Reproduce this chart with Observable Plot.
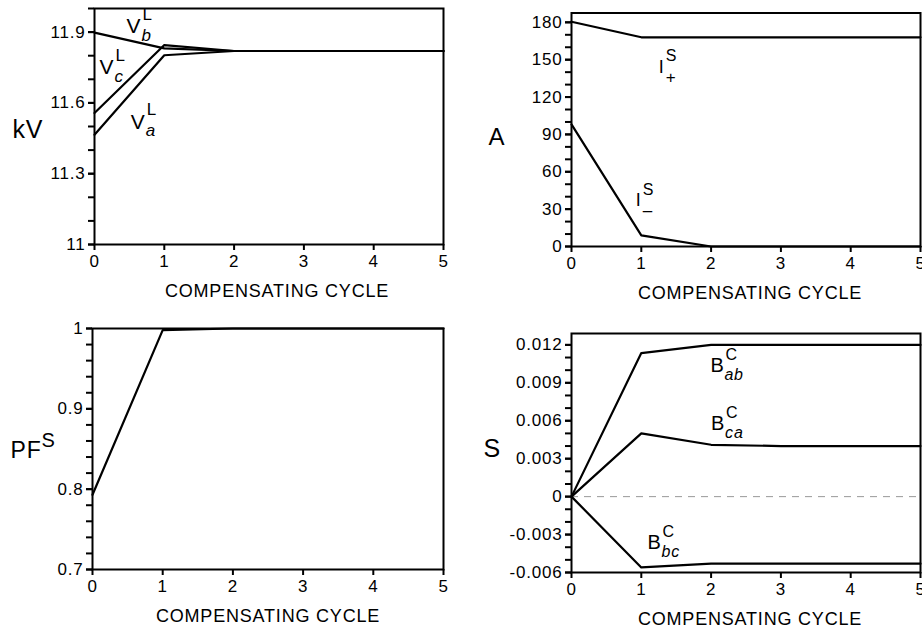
<!DOCTYPE html>
<html>
<head>
<meta charset="utf-8">
<script src="https://cdn.jsdelivr.net/npm/d3@7"></script>
<script src="https://cdn.jsdelivr.net/npm/@observablehq/plot@0.6"></script>
<style>
  html, body { margin: 0; padding: 0; background: #fff; overflow: hidden; }
  #wrap { position: relative; width: 922px; height: 629px; overflow: hidden; background: #fff; }
  .panel { position: absolute; }
</style>
</head>
<body>
<div id="wrap">
  <div class="panel" id="p1" style="left:0px;top:0px;width:461px;height:310px"></div>
  <div class="panel" id="p2" style="left:460px;top:0px;width:462px;height:310px"></div>
  <div class="panel" id="p3" style="left:0px;top:310px;width:461px;height:319px"></div>
  <div class="panel" id="p4" style="left:460px;top:310px;width:462px;height:319px"></div>
</div>
<script>
// ---------- data ----------
const cycles = [0, 1, 2, 3, 4, 5];
const xTitle = "COMPENSATING CYCLE";

// Panel 1: load voltages (kV)
const vA = [11.465, 11.802, 11.82, 11.82, 11.82, 11.82];
const vB = [11.898, 11.831, 11.82, 11.82, 11.82, 11.82];
const vC = [11.557, 11.845, 11.82, 11.82, 11.82, 11.82];
const kvTicks = [11, 11.3, 11.6, 11.9];
const kvTickLabels = ["11", "11.3", "11.6", "11.9"];

// Panel 2: source sequence currents (A)
const iPos = [180.5, 168, 168, 168, 168, 168];
const iNeg = [98, 9, 0, 0, 0, 0];
const ampTicks = [0, 30, 60, 90, 120, 150, 180];
const ampTickLabels = ["0", "30", "60", "90", "120", "150", "180"];

// Panel 3: source power factor
const pfS = [0.793, 0.998, 1, 1, 1, 1];
const pfTicks = [0.7, 0.8, 0.9, 1];
const pfTickLabels = ["0.7", "0.8", "0.9", "1"];

// Panel 4: compensator susceptances (S)
const bAB = [0, 0.01135, 0.012, 0.012, 0.012, 0.012];
const bCA = [0, 0.0050, 0.0041, 0.0040, 0.0040, 0.0040];
const bBC = [0, -0.0056, -0.0053, -0.0053, -0.0053, -0.0053];
const sTicks = [-0.006, -0.003, 0, 0.003, 0.006, 0.009, 0.012];
const sTickLabels = ["-0.006", "-0.003", "0", "0.003", "0.006", "0.009", "0.012"];

const xTicks = [0, 1, 2, 3, 4, 5];
const xTickLabels = ["0", "1", "2", "3", "4", "5"];

// curve labels (data coordinates)
const kvLabels = [
  {x: 0.46, y: 11.925, base: "V", sub: "b", sup: "L"},
  {x: 0.07, y: 11.749, base: "V", sub: "c", sup: "L"},
  {x: 0.52, y: 11.52, base: "V", sub: "a", sup: "L"}
];
const ampLabels = [
  {x: 1.25, y: 144, base: "I", sub: "+", sup: "S"},
  {x: 0.92, y: 37, base: "I", sub: "\u2013", sup: "S"}
];
const sLabels = [
  {x: 1.99, y: 0.01037, base: "B", sub: "ab", sup: "C"},
  {x: 2.0, y: 0.00578, base: "B", sub: "ca", sup: "C"},
  {x: 1.09, y: -0.00367, base: "B", sub: "bc", sup: "C"}
];

// ---------- helpers ----------
const table = (series) => series.flatMap(([name, vals]) => cycles.map((c, i) => ({cycle: c, value: vals[i], series: name})));
const fmt = (ticks, labels) => (d) => { const i = ticks.findIndex(t => Math.abs(t - d) < 1e-9); return i < 0 ? "" : labels[i]; };
const FONT = "'Liberation Sans', Arial, Helvetica, sans-serif";

function common(yTicks, yLabels, yMinor, xTitleDx) {
  return [
    Plot.axisY(yMinor, {tickSize: 6, tickFormat: () => "", strokeWidth: 2, label: null}),
    Plot.axisY(yTicks, {tickSize: 6, tickPadding: 3, tickFormat: fmt(yTicks, yLabels), fontSize: 17, strokeWidth: 2, label: null}),
    Plot.axisX(xTicks, {tickSize: 6, tickPadding: 4, tickFormat: fmt(xTicks, xTickLabels), fontSize: 17, strokeWidth: 2, label: null}),
    Plot.text([xTitle], {frameAnchor: "bottom", dy: 47, dx: xTitleDx, fontSize: 18, lineAnchor: "middle"}),
    Plot.frame({strokeWidth: 2})
  ];
}

function curveLabels(labels, o) {
  return [
    Plot.text(labels, {x: "x", y: "y", text: "base", textAnchor: "start", lineAnchor: "middle", fontSize: o.base}),
    Plot.text(labels, {x: "x", y: "y", text: "sub", textAnchor: "start", lineAnchor: "middle", fontSize: o.subSize, fontStyle: o.italic ? "italic" : "normal", dx: o.subDx, dy: o.subDy}),
    Plot.text(labels, {x: "x", y: "y", text: "sup", textAnchor: "start", lineAnchor: "middle", fontSize: o.supSize, dx: o.supDx, dy: o.supDy})
  ];
}

function render(id, opts) {
  const chart = Plot.plot({
    width: opts.width, height: opts.height,
    marginLeft: opts.mL, marginRight: opts.mR, marginTop: opts.mT, marginBottom: opts.mB,
    style: {fontFamily: FONT, fontSize: "16px", letterSpacing: "0.8px", color: "#000", background: "#fff", overflow: "visible"},
    x: {domain: [0, 5], label: null},
    y: {domain: opts.yDomain, label: null},
    marks: opts.marks
  });
  document.getElementById(id).appendChild(chart);
}

// ---------- panel 1 ----------
render("p1", {
  width: 461, height: 310, mL: 94, mR: 18, mT: 8, mB: 66, yDomain: [11, 12],
  marks: [
    ...common(kvTicks, kvTickLabels, d3.range(11, 12.0001, 0.1), 8),
    Plot.line(table([["Va", vA], ["Vb", vB], ["Vc", vC]]), {x: "cycle", y: "value", z: "series", stroke: "#000", strokeWidth: 2.2}),
    ...curveLabels(kvLabels, {base: 21, subSize: 17, italic: true, subDx: 15, subDy: 9, supSize: 17, supDx: 16, supDy: -12}),
    Plot.text(["kV"], {frameAnchor: "left", textAnchor: "start", dx: -82, dy: 3, fontSize: 25})
  ]
});

// ---------- panel 2 ----------
render("p2", {
  width: 462, height: 310, mL: 111, mR: 2, mT: 12.5, mB: 64, yDomain: [0, 187.5],
  marks: [
    ...common(ampTicks, ampTickLabels, d3.range(0, 181, 10), 4),
    Plot.line(table([["Ipos", iPos], ["Ineg", iNeg]]), {x: "cycle", y: "value", z: "series", stroke: "#000", strokeWidth: 2.2}),
    ...curveLabels(ampLabels, {base: 18, subSize: 17, italic: false, subDx: 7, subDy: 10, supSize: 16, supDx: 7, supDy: -11}),
    Plot.text(["A"], {frameAnchor: "left", textAnchor: "start", dx: -83, dy: 8, fontSize: 24})
  ]
});

// ---------- panel 3 ----------
render("p3", {
  width: 461, height: 319, mL: 92, mR: 18, mT: 18, mB: 60, yDomain: [0.7, 1],
  marks: [
    ...common(pfTicks, pfTickLabels, d3.range(0.7, 1.0001, 0.02), 0),
    Plot.line(table([["PF", pfS]]), {x: "cycle", y: "value", z: "series", stroke: "#000", strokeWidth: 2.2}),
    Plot.text(["PF"], {frameAnchor: "left", textAnchor: "start", dx: -82, dy: 2, fontSize: 23}),
    Plot.text(["S"], {frameAnchor: "left", textAnchor: "start", dx: -51, dy: -8, fontSize: 20})
  ]
});

// ---------- panel 4 ----------
render("p4", {
  width: 462, height: 319, mL: 111, mR: 2, mT: 23, mB: 57, yDomain: [-0.006, 0.0129],
  marks: [
    Plot.ruleY([0], {stroke: "#999", strokeWidth: 1, strokeDasharray: "7,6"}),
    ...common(sTicks, sTickLabels, d3.range(-0.006, 0.01251, 0.001), 4),
    Plot.line(table([["Bab", bAB], ["Bca", bCA], ["Bbc", bBC]]), {x: "cycle", y: "value", z: "series", stroke: "#000", strokeWidth: 2.2}),
    ...curveLabels(sLabels, {base: 20, subSize: 16, italic: true, subDx: 14, subDy: 9, supSize: 16, supDx: 15, supDy: -11}),
    Plot.text(["S"], {frameAnchor: "left", textAnchor: "start", dx: -88, dy: -4, fontSize: 25})
  ]
});
</script>
</body>
</html>
